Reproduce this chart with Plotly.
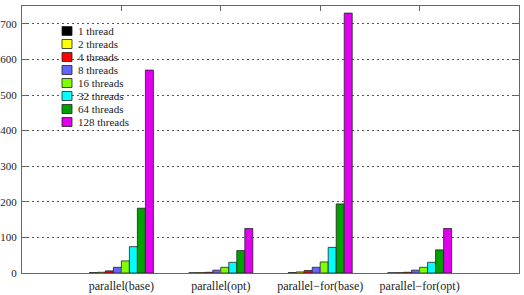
import plotly.graph_objects as go

categories = ["parallel(base)", "parallel(opt)", "parallel\u2212for(base)", "parallel\u2212for(opt)"]
series_names = ["1 thread", "2 threads", "4 threads", "8 threads",
                "16 threads", "32 threads", "64 threads", "128 threads"]
series_colors = ["#000000", "#ffff00", "#ff0000", "#6464ff",
                 "#80ff00", "#00ffff", "#00a000", "#e000ee"]
values_1 = [1, 0.5, 1, 0.5]
values_2 = [2, 1, 3, 1]
values_4 = [6, 2, 7, 2]
values_8 = [16, 8, 16, 8]
values_16 = [34, 16, 31, 16]
values_32 = [74, 30, 72, 30]
values_64 = [182, 63, 194, 65]
values_128 = [570, 125, 730, 125]
series_values = [values_1, values_2, values_4, values_8,
                 values_16, values_32, values_64, values_128]
y_ticks = [0, 100, 200, 300, 400, 500, 600, 700]

SERIF = "'Liberation Serif', 'Times New Roman', Times, serif"

fig = go.Figure()
for name, color, vals in zip(series_names, series_colors, series_values):
    fig.add_trace(go.Bar(x=categories, y=vals, name=name,
                         marker=dict(color=color, line=dict(color="#222222", width=0.8)),
                         showlegend=False))

W, H = 524, 295
ml, mr, mt, mb = 22, 5, 6, 22
pw, ph = W - ml - mr, H - mt - mb

def px_x(x):
    return (x - ml) / pw

def px_y(y):
    return (H - mb - y) / ph

shapes = []
annotations = []
for i, (name, color) in enumerate(zip(series_names, series_colors)):
    cy = 31 + 13 * i
    shapes.append(dict(type="rect", xref="paper", yref="paper",
                       x0=px_x(62), x1=px_x(72), y0=px_y(cy + 4.5), y1=px_y(cy - 4.5),
                       fillcolor=color, line=dict(color="#222222", width=0.8)))
    annotations.append(dict(xref="paper", yref="paper", x=px_x(76), y=px_y(cy),
                            text=name, showarrow=False, xanchor="left", yanchor="middle",
                            font=dict(family=SERIF, size=11, color="#222222")))

fig.update_layout(
    width=W, height=H,
    margin=dict(l=ml, r=mr, t=mt, b=mb, pad=0),
    paper_bgcolor="white", plot_bgcolor="white",
    barmode="group", bargap=0.356, bargroupgap=0,
    font=dict(family=SERIF, size=12, color="#222222"),
    shapes=shapes, annotations=annotations,
    xaxis=dict(type="category", range=[-1, 4], showline=True, linecolor="#666666",
               linewidth=1, mirror="ticks", ticks="inside", ticklen=5, tickcolor="#666666",
               showgrid=False, tickfont=dict(family=SERIF, size=12), ticklabelstandoff=2,
               automargin=False),
    yaxis=dict(range=[0, 750], tickvals=y_ticks, showline=True, linecolor="#666666",
               linewidth=1, mirror="ticks", ticks="inside", ticklen=5, tickcolor="#666666",
               showgrid=True, gridcolor="#555555", gridwidth=1, griddash="2px,3px",
               zeroline=False, tickfont=dict(family=SERIF, size=11), ticklabelstandoff=2,
               automargin=False),
)

fig.write_html("out.html")
